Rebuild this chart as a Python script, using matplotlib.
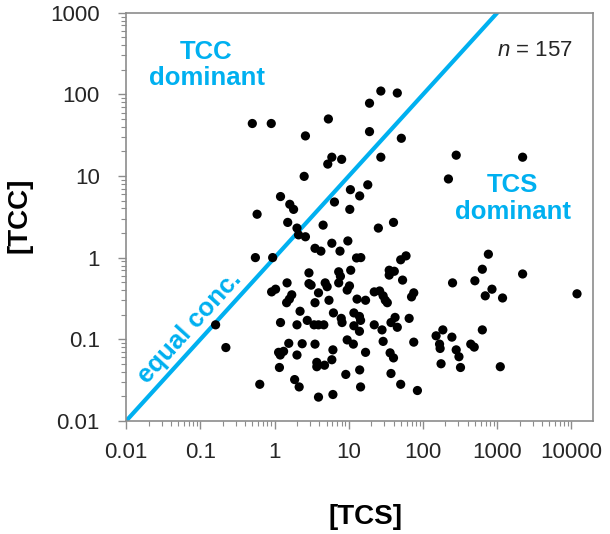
import math
import matplotlib
matplotlib.use("Agg")
import matplotlib.pyplot as plt
from matplotlib import ticker

plt.rcParams['font.family'] = ['Liberation Sans', 'DejaVu Sans']
plt.rcParams['mathtext.fontset'] = 'custom'
plt.rcParams['mathtext.rm'] = 'Liberation Sans'
plt.rcParams['mathtext.it'] = 'Liberation Sans:italic'

# TCS and TCC concentrations, one pair per sample
tcs = [
    0.50, 0.90, 2.6, 2.5, 1.2, 0.58, 1.6, 1.8, 1.5, 2.0, 2.1, 2.6, 0.55, 0.94,
    5.3, 19, 27, 45, 19, 51, 5.9, 5.2, 8.0, 27, 280, 2200, 220, 10.5, 14, 18,
    6.4, 10.3, 4.5, 25, 40, 760,
    3.5, 4.2, 5.9, 7.6, 9.7, 12.7, 14.5, 50, 59, 630,
    2.9, 2.9, 3.1, 4.8, 5.1, 3.9, 3.5, 5.4, 7.3, 7.7, 7.3, 10.6, 10.2, 9.5,
    12.9, 16.8,
    6.2, 7.9, 8.1, 11.7, 13.9, 14.4, 2.75, 3.4, 3.9, 4.6, 11.7, 13.9,
    22, 26, 29, 31, 33, 35, 41, 35, 53, 70, 75, 42, 45, 37, 65, 22, 28,
    2.35, 3.5, 9.5, 11.5, 29, 75, 6.1, 16.8, 3.7, 3.7, 4.7, 5.9, 36, 40,
    9.1, 14, 37, 14.4, 50, 84, 3.9, 6.1,
    250, 500, 850, 690, 1180, 2200, 11900,
    150, 185, 167, 170, 245, 280, 305, 440, 490, 630, 175, 320, 1100,
    0.16, 0.22, 0.63, 0.91, 1.03, 1.47, 1.7, 1.58, 1.45, 2.2, 1.2, 2.0, 1.55,
    1.13, 1.19, 1.32, 2.0, 1.16, 1.86, 2.14,
]
tcc = [
    44, 44, 31, 9.9, 5.6, 3.4, 4.5, 3.9, 2.7, 2.3, 1.9, 1.8, 1.0, 1.0,
    50, 78, 110, 104, 35, 29, 17, 14, 16, 17, 18, 17, 9.2, 6.8, 5.7, 7.8,
    4.8, 3.9, 2.5, 2.3, 2.7, 1.1,
    1.3, 1.2, 1.5, 1.2, 1.6, 0.99, 1.0, 0.94, 1.05, 0.72,
    0.65, 0.48, 0.46, 0.49, 0.44, 0.37, 0.28, 0.30, 0.67, 0.59, 0.49, 0.70,
    0.45, 0.40, 0.31, 0.30,
    0.21, 0.18, 0.16, 0.21, 0.19, 0.17, 0.17, 0.15, 0.15, 0.15, 0.146, 0.125,
    0.38, 0.39, 0.34, 0.30, 0.28, 0.70, 0.68, 0.61, 0.53, 0.33, 0.37, 0.185,
    0.14, 0.16, 0.18, 0.15, 0.13,
    0.088, 0.087, 0.098, 0.087, 0.094, 0.092, 0.074, 0.069, 0.052, 0.046,
    0.048, 0.056, 0.068, 0.059,
    0.037, 0.042, 0.038, 0.026, 0.028, 0.0235, 0.0195, 0.021,
    0.49, 0.52, 0.41, 0.34, 0.32, 0.63, 0.36,
    0.11, 0.13, 0.087, 0.077, 0.106, 0.074, 0.061, 0.087, 0.080, 0.13, 0.050,
    0.045, 0.046,
    0.15, 0.079, 0.028, 0.38, 0.41, 0.49, 0.35, 0.31, 0.28, 0.22, 0.16, 0.15,
    0.089, 0.069, 0.064, 0.071, 0.064, 0.045, 0.032, 0.026,
]
equal_line = [0.001, 10000]
x_ticks = [0.01, 0.1, 1, 10, 100, 1000, 10000]
y_ticks = [0.01, 0.1, 1, 10, 100, 1000]
n_samples = 157

CYAN = '#00B0F0'
GRAY = '#8c8c8c'

fig = plt.figure(figsize=(6.1, 5.34), dpi=100)
ax = fig.add_axes([0.207, 0.212, 0.765, 0.764])

ax.plot(equal_line, equal_line, color=CYAN, lw=3, zorder=2)
ax.scatter(tcs, tcc, s=44, color='black', edgecolors='none', zorder=3)

ax.set_xscale('log')
ax.set_yscale('log')
ax.set_xlim(0.01, 19500)
ax.set_ylim(0.01, 1000)

fmt = ticker.FuncFormatter(lambda v, _: f'{v:g}')
ax.xaxis.set_major_locator(ticker.FixedLocator(x_ticks))
ax.yaxis.set_major_locator(ticker.FixedLocator(y_ticks))
ax.xaxis.set_major_formatter(fmt)
ax.yaxis.set_major_formatter(fmt)
ax.xaxis.set_minor_formatter(ticker.NullFormatter())
ax.yaxis.set_minor_formatter(ticker.NullFormatter())

for s in ax.spines.values():
    s.set_color(GRAY)
    s.set_linewidth(1.2)
ax.tick_params(which='major', length=6, width=1, color=GRAY,
               labelsize=16, labelcolor='#262626')
ax.tick_params(which='minor', length=3.5, width=0.8, color=GRAY)
ax.tick_params(axis='x', which='major', pad=9)
ax.tick_params(axis='y', which='major', pad=13)

fig.text(19.5 / 610, 1 - 215 / 534, '[TCC]', rotation=90, ha='center',
         va='center', fontsize=20, fontweight='bold')
fig.text(366 / 610, 1 - 517 / 534, '[TCS]', ha='center', va='center',
         fontsize=20, fontweight='bold')

ax.text(0.172, 0.872, 'TCC\ndominant', transform=ax.transAxes, ha='center',
        va='center', color=CYAN, fontsize=18.5, fontweight='bold',
        linespacing=1.15)
ax.text(0.828, 0.545, 'TCS\ndominant', transform=ax.transAxes, ha='center',
        va='center', color=CYAN, fontsize=18.5, fontweight='bold',
        linespacing=1.15)
ax.text(0.955, 0.907, f'$n$ = {n_samples}', transform=ax.transAxes,
        ha='right', va='center', fontsize=16, color='#262626')

# slope of the 1:1 line on screen
ax_w = 0.765 * 610 / 6.301
ax_h = 0.764 * 534 / 5.0
ang = math.degrees(math.atan2(ax_h, ax_w))
ax.text(0.1355, 0.228, 'equal conc.', transform=ax.transAxes, ha='center',
        va='center', rotation=ang, rotation_mode='anchor', color=CYAN,
        fontsize=18.5, fontweight='bold')

fig.savefig('out.png', dpi=100)
